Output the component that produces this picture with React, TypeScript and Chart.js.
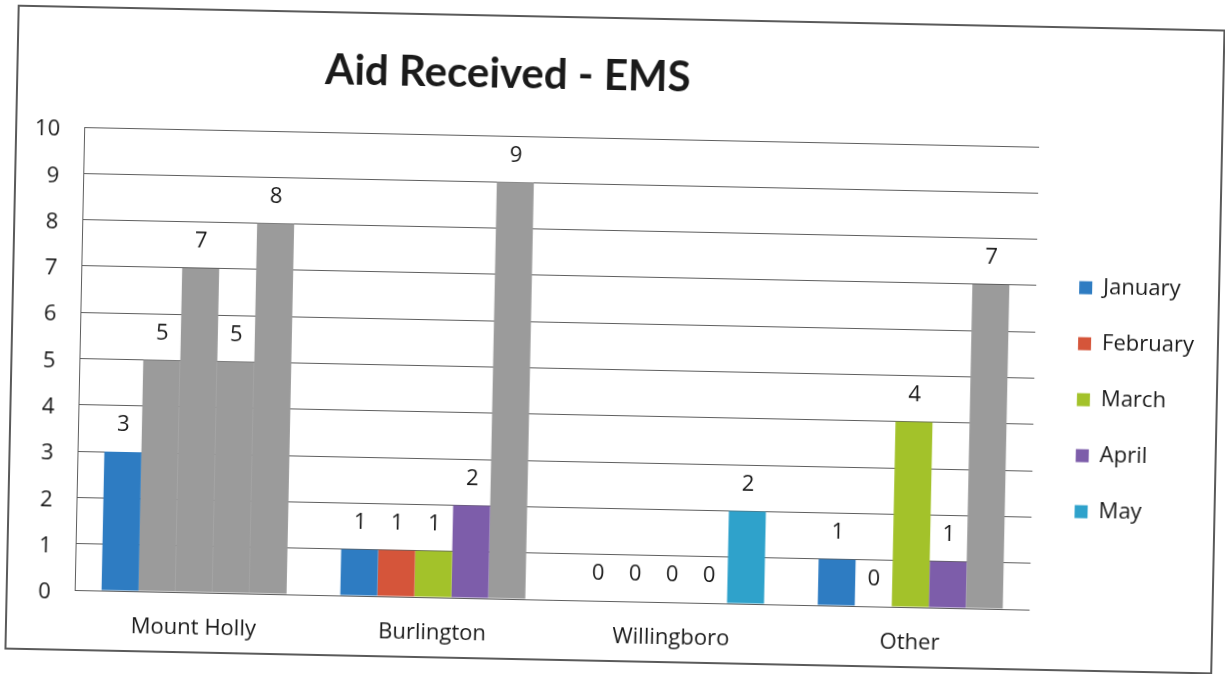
import React, { useEffect, useRef } from "react";
import { Chart, registerables } from "chart.js";

Chart.register(...registerables);

// ---- data ----
const chartTitle = "Aid Received - EMS";
const categories = ["Mount Holly", "Burlington", "Willingboro", "Other"];
const seriesNames = ["January", "February", "March", "April", "May"];
const january = [3, 1, 0, 1];
const february = [5, 1, 0, 0];
const march = [7, 1, 0, 4];
const april = [5, 2, 0, 1];
const may = [8, 9, 2, 7];
const yTickValues = [0, 1, 2, 3, 4, 5, 6, 7, 8, 9, 10];

// ---- styles ----
const seriesColors = ["#2e7cc2", "#d5553a", "#a3c22a", "#7d5daa", "#2fa2cb"];
const printedGrey = "#9b9b9b";
// bars that came out grey in the printed copy
const greyJanuary = [false, false, false, false];
const greyFebruary = [true, false, false, false];
const greyMarch = [true, false, false, false];
const greyApril = [true, false, false, false];
const greyMay = [true, true, false, true];

const FONT = "'Open Sans', Lato, sans-serif";
const TITLE_FONT = "Lato, 'Open Sans', sans-serif";
const TEXT = "#1a1a1a";

const valueLabels = {
  id: "valueLabels",
  afterDatasetsDraw(chart: any) {
    const ctx = chart.ctx;
    ctx.save();
    ctx.font = `22px ${FONT}`;
    ctx.fillStyle = TEXT;
    ctx.textAlign = "center";
    ctx.textBaseline = "middle";
    chart.data.datasets.forEach((ds: any, i: number) => {
      const meta = chart.getDatasetMeta(i);
      meta.data.forEach((el: any, j: number) => {
        ctx.fillText(String(ds.data[j]), el.x, el.y - 27);
      });
    });
    ctx.restore();
  },
};

const offsetTitle = {
  id: "offsetTitle",
  afterDraw(chart: any) {
    const ctx = chart.ctx;
    const { left, right } = chart.chartArea;
    ctx.save();
    ctx.font = `bold 42px ${TITLE_FONT}`;
    ctx.fillStyle = TEXT;
    ctx.textAlign = "center";
    ctx.textBaseline = "middle";
    ctx.fillText(chartTitle, (left + right) / 2 - 55, 76);
    ctx.restore();
  },
};

export default function App() {
  const ref = useRef<HTMLCanvasElement | null>(null);

  useEffect(() => {
    if (!ref.current) return;
    const values = [january, february, march, april, may];
    const greys = [greyJanuary, greyFebruary, greyMarch, greyApril, greyMay];
    const chart = new Chart(ref.current, {
      type: "bar",
      data: {
        labels: categories,
        datasets: seriesNames.map((name, i) => ({
          label: name,
          data: values[i],
          backgroundColor: greys[i].map((g) => (g ? printedGrey : seriesColors[i])),
          borderWidth: 0,
          barPercentage: 1,
          categoryPercentage: 0.775,
        })),
      },
      options: {
        animation: false,
        responsive: false,
        devicePixelRatio: 1,
        layout: { padding: { left: 11, top: 125, right: 21, bottom: 19 } },
        plugins: {
          title: { display: false },
          tooltip: { enabled: false },
          legend: {
            position: "right",
            labels: {
              font: { family: FONT, size: 22 },
              color: TEXT,
              boxWidth: 13,
              boxHeight: 13,
              padding: 34,
              generateLabels: (chart: any) =>
                chart.data.datasets.map((ds: any, i: number) => ({
                  text: ds.label,
                  fillStyle: seriesColors[i],
                  strokeStyle: seriesColors[i],
                  lineWidth: 0,
                  datasetIndex: i,
                  fontColor: TEXT,
                })),
            },
          },
        },
        scales: {
          x: {
            grid: { display: false },
            border: { display: false },
            ticks: {
              font: { family: FONT, size: 22 },
              color: TEXT,
              padding: 15,
            },
            afterFit: (s: any) => {
              s.height = 54;
            },
          },
          y: {
            min: 0,
            max: 10,
            afterBuildTicks: (s: any) => {
              s.ticks = yTickValues.map((v) => ({ value: v }));
            },
            ticks: {
              font: { family: FONT, size: 22 },
              color: TEXT,
              padding: 24,
              labelOffset: 3,
            },
            grid: { color: "#5e5e5e", lineWidth: 1, drawTicks: false },
            border: { display: true, color: "#5e5e5e", width: 1 },
            afterFit: (s: any) => {
              s.width = 69;
            },
          },
          spacerRight: {
            type: "linear",
            position: "right",
            display: true,
            grid: { display: false, drawTicks: false },
            border: { display: false },
            ticks: { display: false },
            afterFit: (s: any) => {
              s.width = 9;
            },
          },
          spacerTop: {
            type: "linear",
            axis: "x",
            position: "top",
            display: true,
            grid: { display: false, drawTicks: false },
            border: { display: false },
            ticks: { display: false },
            afterFit: (s: any) => {
              s.height = 13;
            },
          },
        },
      },
      plugins: [valueLabels, offsetTitle],
    } as any);
    return () => chart.destroy();
  }, []);

  return (
    <div
      style={{
        position: "fixed",
        left: 0,
        top: 0,
        width: 1225,
        height: 674,
        background: "#fff",
        transform: "rotate(1.18deg)",
        transformOrigin: "50% 50%",
      }}
    >
      <div
        style={{
          position: "absolute",
          left: 11,
          top: 17,
          width: 1208,
          height: 645,
          border: "2px solid #5a5a5a",
          boxSizing: "border-box",
        }}
      />
      <canvas
        ref={ref}
        width={1225}
        height={674}
        style={{ position: "absolute", left: 0, top: 0 }}
      />
    </div>
  );
}
